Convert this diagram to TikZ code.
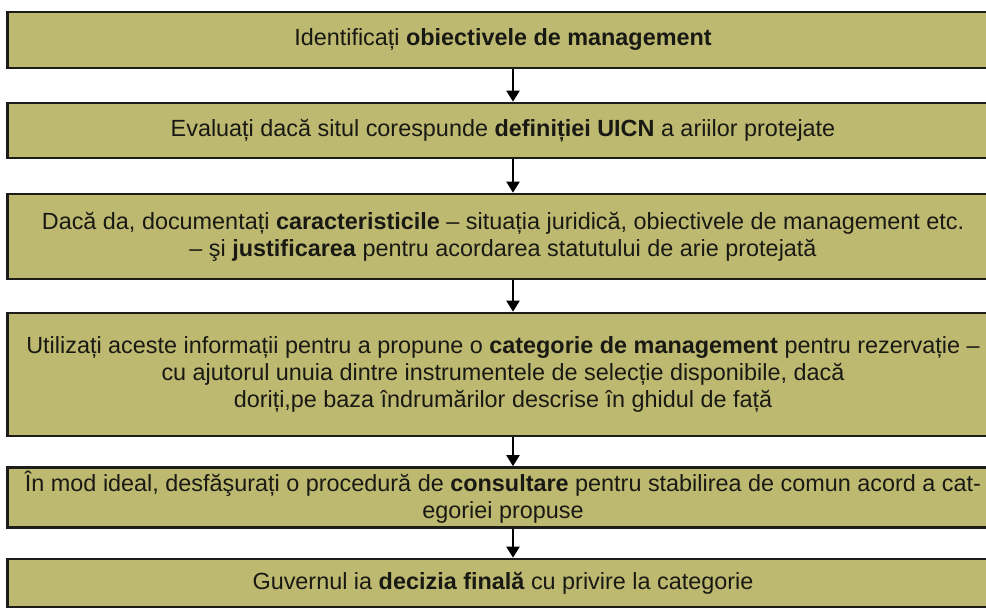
\documentclass[tikz,border=0pt]{standalone}
\usepackage{fontspec}
\setmainfont{Liberation Sans}
\usetikzlibrary{arrows.meta}
\definecolor{boxfill}{RGB}{190,185,112}
\definecolor{boxline}{RGB}{28,28,24}
\definecolor{txt}{RGB}{25,25,20}
\tikzset{
  stepbox/.style={draw=boxline, line width=2.6pt, fill=boxfill, text=txt,
    minimum width=991pt, align=center, inner sep=0pt,
    font=\fontsize{23.4pt}{27pt}\selectfont},
  arr/.style={draw=black, line width=2pt, -{Triangle[width=13pt,length=11pt]}}
}
\begin{document}
\begin{tikzpicture}[x=1pt,y=-1pt]
\useasboundingbox (0,0) rectangle (986,610);
\clip (0,0) rectangle (986,610);
\node[stepbox, minimum height=56pt] (b1) at (503,40)
  {Identificați \textbf{obiectivele de management}};
\node[stepbox, minimum height=55pt] (b2) at (503,130.5)
  {Evaluați dacă situl corespunde \textbf{definiției UICN} a ariilor protejate};
\node[stepbox, minimum height=85pt] (b3) at (503,236.5)
  {Dacă da, documentați \textbf{caracteristicile} – situația juridică, obiectivele de management etc.\\
   – şi \textbf{justificarea} pentru acordarea statutului de arie protejată};
\node[stepbox, minimum height=123pt] (b4) at (503,374.5)
  {Utilizați aceste informații pentru a propune o \textbf{categorie de management} pentru rezervație –\\
   cu ajutorul unuia dintre instrumentele de selecție disponibile, dacă\\
   doriți,pe baza îndrumărilor descrise în ghidul de față};
\node[stepbox, minimum height=60pt] (b5) at (503,497.5)
  {\rule{0pt}{20pt}În mod ideal, desfăşurați o procedură de \textbf{consultare} pentru stabilirea de comun acord a cat-\\
   egoriei propuse};
\node[stepbox, minimum height=48pt] (b6) at (503,583)
  {Guvernul ia \textbf{decizia finală} cu privire la categorie};
\draw[arr] ([xshift=10pt]b1.south) -- ([xshift=10pt]b2.north);
\draw[arr] ([xshift=10pt]b2.south) -- ([xshift=10pt]b3.north);
\draw[arr] ([xshift=10pt]b3.south) -- ([xshift=10pt]b4.north);
\draw[arr] ([xshift=10pt]b4.south) -- ([xshift=10pt]b5.north);
\draw[arr] ([xshift=10pt]b5.south) -- ([xshift=10pt]b6.north);
\end{tikzpicture}
\end{document}
